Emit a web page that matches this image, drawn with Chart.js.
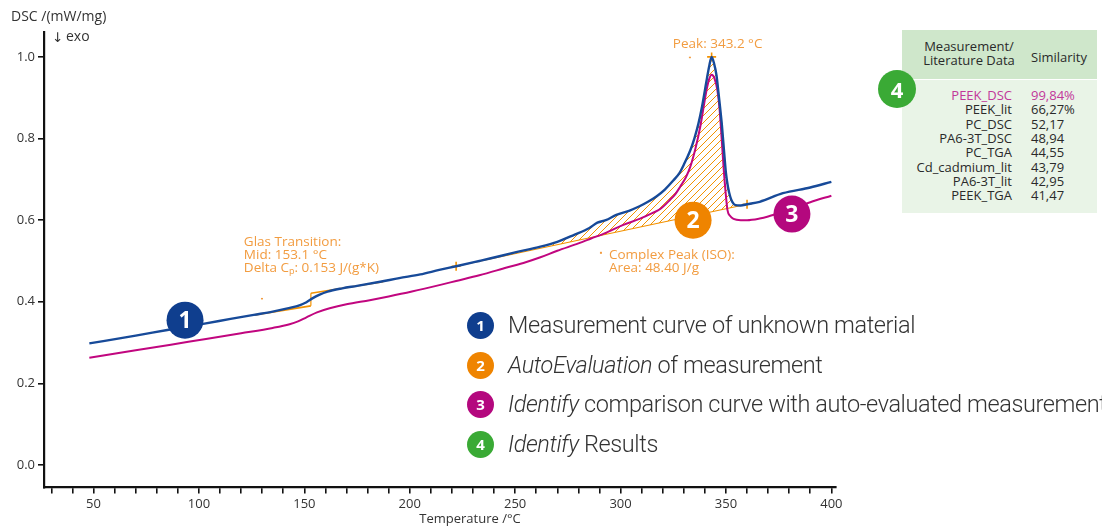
<!DOCTYPE html>
<html>
<head>
<meta charset="utf-8">
<title>DSC – PEEK identification</title>
<script src="https://cdn.jsdelivr.net/npm/chart.js@4.4.1/dist/chart.umd.min.js"></script>
<style>
  html, body { margin: 0; padding: 0; background: #fff; }
  #wrap { position: relative; width: 1102px; height: 527px; overflow: hidden; font-family: "Open Sans", "Noto Sans", sans-serif; }
  #chart { position: absolute; left: 0; top: 0; }
  .lrow { position: absolute; left: 467px; height: 30px; display: flex; align-items: center; white-space: nowrap; }
  .dot { width: 27px; height: 27px; border-radius: 50%; color: #fff; font: bold 15px "Open Sans", sans-serif; display: flex; align-items: center; justify-content: center; flex: none; }
  .ltxt { margin-left: 14px; font-family: Roboto, sans-serif; font-weight: 300; font-size: 23.5px; color: #333; letter-spacing: -0.4px; }
  #tbl { position: absolute; left: 902px; top: 30px; width: 195px; font-size: 13px; color: #2a2a2a; }
  #thead { position: relative; height: 49px; background: #cfe7cb; }
  #tbody { position: relative; margin-top: 1px; height: 133px; background: #e9f4e7; }
  .trow { position: absolute; left: 0; width: 195px; height: 14px; line-height: 14px; }
  .tname { position: absolute; right: 85px; text-align: right; }
  .tval { position: absolute; left: 129px; }
  #badge4 { position: absolute; left: 878px; top: 70px; width: 38px; height: 38px; border-radius: 50%; background: #3aaa35; color: #fff; font: bold 22px "Open Sans", sans-serif; display: flex; align-items: center; justify-content: center; }
</style>
</head>
<body>
<div id="wrap">
  <canvas id="chart" width="1102" height="527"></canvas>
  <div id="legend"></div>
  <div id="tbl">
    <div id="thead">
      <div style="position:absolute;left:0;width:134px;top:9px;text-align:center;line-height:14px;">Measurement/<br>Literature Data</div>
      <div style="position:absolute;left:129px;top:18px;">Similarity</div>
    </div>
    <div id="tbody"></div>
  </div>
  <div id="badge4">4</div>
</div>
<script>
// Measured DSC curve (blue): temperature in °C, DSC in mW/mg
const measT = [48, 70, 85, 102, 115, 126, 135, 142, 148, 151, 154, 157, 161, 168, 175, 186, 195, 205, 214, 222,
  233, 238, 250, 262, 270, 278, 285, 289, 293, 298, 304, 309, 313, 317, 321, 325, 328, 330, 333, 335,
  337, 338.5, 340, 341, 342, 343.2, 344.3, 345.5, 346.5, 348, 349, 350, 351, 352, 353, 354.5, 357, 360, 366, 377, 390, 400];
const measV = [0.298, 0.317, 0.331, 0.346, 0.358, 0.368, 0.376, 0.384, 0.392, 0.399, 0.409, 0.417, 0.425, 0.433, 0.439, 0.449, 0.458, 0.467, 0.478, 0.487,
  0.500, 0.506, 0.521, 0.535, 0.547, 0.564, 0.580, 0.594, 0.600, 0.613, 0.623, 0.634, 0.645, 0.658, 0.675, 0.697, 0.716, 0.736, 0.770, 0.800,
  0.838, 0.874, 0.918, 0.948, 0.976, 1.000, 0.985, 0.955, 0.910, 0.837, 0.775, 0.715, 0.680, 0.658, 0.645, 0.637, 0.636, 0.639, 0.645, 0.666, 0.680, 0.694];

// Comparison curve from the library (magenta)
const refT = [48, 70, 95, 120, 135, 143, 147, 151, 156, 162, 170, 181, 190, 201, 215, 222, 233, 246, 255, 262,
  270, 280, 286, 293, 301, 309, 315, 319, 323.5, 326, 328.3, 331, 333.1, 335.5, 337.8, 339.5, 340.8, 342, 343.2, 344.5,
  345.9, 347, 348, 349, 349.8, 350.7, 352, 353.6, 357, 360, 366, 370, 380, 390, 400];
const refV = [0.263, 0.281, 0.302, 0.323, 0.336, 0.345, 0.352, 0.362, 0.374, 0.384, 0.394, 0.404, 0.413, 0.425, 0.442, 0.451, 0.465, 0.484, 0.497, 0.509,
  0.525, 0.543, 0.555, 0.569, 0.588, 0.603, 0.617, 0.628, 0.650, 0.664, 0.682, 0.705, 0.731, 0.775, 0.829, 0.880, 0.919, 0.945, 0.956, 0.948,
  0.919, 0.870, 0.797, 0.720, 0.670, 0.625, 0.610, 0.603, 0.600, 0.600, 0.604, 0.609, 0.626, 0.644, 0.660];

// Complex peak evaluation: baseline limits and peak
const peakBaseT = [222, 360];
const peakBaseV = [0.487, 0.639];
const peakTopT = 343.2;
const peakTopV = 1.000;

// Glass transition construction lines
const gtLowT = [126.6, 153.1], gtLowV = [0.368, 0.390];
const gtHighT = [153.1, 187.4], gtHighV = [0.421, 0.449];

// Axis ticks
const xTicks = [30, 40, 50, 60, 70, 80, 90, 100, 110, 120, 130, 140, 150, 160, 170, 180, 190, 200, 210, 220,
  230, 240, 250, 260, 270, 280, 290, 300, 310, 320, 330, 340, 350, 360, 370, 380, 390, 400];
const yTicks = [0.0, 0.2, 0.4, 0.6, 0.8, 1.0];

// Numbered badges placed on the curves
const badgeNum = ['1', '2', '3'];
const badgeT = [93.4, 334.4, 381.3];
const badgeV = [0.355, 0.600, 0.615];
const badgeCol = ['#0f3e8e', '#ef8400', '#b4087e'];

// Identify result list
const hitNames = ['PEEK_DSC', 'PEEK_lit', 'PC_DSC', 'PA6-3T_DSC', 'PC_TGA', 'Cd_cadmium_lit', 'PA6-3T_lit', 'PEEK_TGA'];
const hitScores = ['99,84%', '66,27%', '52,17', '48,94', '44,55', '43,79', '42,95', '41,47'];

// Legend entries
const legendNum = ['1', '2', '3', '4'];
const legendCol = ['#0f3e8e', '#ef8400', '#b4087e', '#3aaa35'];
const legendHtml = [
  'Measurement curve of unknown material',
  '<i>AutoEvaluation</i> of measurement',
  '<i>Identify</i> comparison curve with auto-evaluated measurement',
  '<i>Identify</i> Results'
];
const legendY = [325, 365, 404, 444];

const BLUE = '#174a99';
const MAGENTA = '#c1067f';
const ORANGE = '#f39200';
const NOTE = '#f29c40';

const pts = (xs, ys) => xs.map((x, i) => ({ x: x, y: ys[i] }));

// Build legend
const legend = document.getElementById('legend');
legendNum.forEach((n, i) => {
  const row = document.createElement('div');
  row.className = 'lrow';
  row.style.top = (legendY[i] - 15) + 'px';
  row.innerHTML = '<div class="dot" style="background:' + legendCol[i] + '">' + n + '</div><div class="ltxt">' + legendHtml[i] + '</div>';
  legend.appendChild(row);
});

// Build result table
const tbody = document.getElementById('tbody');
hitNames.forEach((name, i) => {
  const r = document.createElement('div');
  r.className = 'trow';
  r.style.top = (8 + i * 14.3) + 'px';
  if (i === 0) r.style.color = '#c2379a';
  r.innerHTML = '<span class="tname">' + name + '</span><span class="tval">' + hitScores[i] + '</span>';
  tbody.appendChild(r);
});

// Diagonal hatch used for the integrated peak area
function makeHatch(ctx) {
  const c = document.createElement('canvas');
  c.width = 7; c.height = 7;
  const g = c.getContext('2d');
  g.strokeStyle = ORANGE;
  g.lineWidth = 1;
  g.beginPath();
  g.moveTo(-1, 8); g.lineTo(8, -1);
  g.moveTo(-1, 1); g.lineTo(1, -1);
  g.moveTo(6, 8); g.lineTo(8, 6);
  g.stroke();
  return ctx.createPattern(c, 'repeat');
}

const canvas = document.getElementById('chart');
const ctx = canvas.getContext('2d');

const peakSegment = pts(measT, measV).filter(p => p.x >= peakBaseT[0] && p.x <= peakBaseT[1]);

// Text and badges drawn on top of the plot
const notes = {
  id: 'notes',
  afterDraw(chart) {
    const c = chart.ctx;
    const xs = chart.scales.x, ys = chart.scales.y;
    const px = v => xs.getPixelForValue(v), py = v => ys.getPixelForValue(v);
    c.save();
    c.textBaseline = 'middle';

    // axis titles
    c.fillStyle = '#333';
    c.font = '14px "Open Sans"';
    c.textAlign = 'left';
    c.fillText('DSC /(mW/mg)', 11, 17);
    c.font = '13.5px "DejaVu Sans"';
    c.fillText('\u2193', 52, 38);
    c.font = '14px "Open Sans"';
    c.fillText('exo', 66, 37);
    c.font = '13px "Open Sans"';
    c.textAlign = 'center';
    c.fillText('Temperature /\u00B0C', (chart.chartArea.left + chart.chartArea.right) / 2 + 30, 519);

    // evaluation notes
    c.fillStyle = NOTE;
    c.font = '13.5px "Open Sans"';
    c.textAlign = 'center';
    c.fillText('Peak: 343.2 \u00B0C', px(peakTopT) + 6, py(peakTopV) - 13);

    c.textAlign = 'left';
    const gx = px(121.3), gy = py(0.547);
    c.fillText('Glas Transition:', gx, gy);
    c.fillText('Mid: 153.1 \u00B0C', gx, gy + 13);
    const w = c.measureText('Delta C').width;
    c.fillText('Delta C', gx, gy + 26);
    c.font = '9px "Open Sans"';
    c.fillText('p', gx + w, gy + 30);
    const wp = c.measureText('p').width;
    c.font = '13.5px "Open Sans"';
    c.fillText(': 0.153 J/(g*K)', gx + w + wp, gy + 26);

    const cx = px(294.5), cy = py(0.515);
    c.fillText('Complex Peak (ISO):', cx, cy);
    c.fillText('Area: 48.40 J/g', cx, cy + 13);

    // small reference marks next to the notes
    c.fillRect(px(129.9) - 1, py(0.407) - 1, 2, 1.5);
    c.fillRect(px(332.9) - 1, py(0.998) - 1, 2, 1.5);
    c.fillRect(px(290.7) - 1, py(0.52) - 1, 2, 2);

    // numbered badges
    badgeNum.forEach((n, i) => {
      const bx = px(badgeT[i]), by = py(badgeV[i]);
      c.beginPath();
      c.arc(bx, by, 18.5, 0, Math.PI * 2);
      c.fillStyle = badgeCol[i];
      c.fill();
      c.fillStyle = '#fff';
      c.font = 'bold 23px "Open Sans"';
      c.textAlign = 'center';
      c.fillText(n, bx, by + 1);
    });
    c.restore();
  }
};

new Chart(ctx, {
  type: 'line',
  data: {
    datasets: [
      { label: 'Measurement', data: pts(measT, measV), borderColor: BLUE, borderWidth: 2.4,
        pointRadius: 0, cubicInterpolationMode: 'monotone', fill: false },
      { label: 'Comparison', data: pts(refT, refV), borderColor: MAGENTA, borderWidth: 2,
        pointRadius: 0, cubicInterpolationMode: 'monotone', fill: false },
      { label: 'Peak area', data: peakSegment, borderWidth: 0, borderColor: 'rgba(0,0,0,0)',
        pointRadius: 0, cubicInterpolationMode: 'monotone', fill: { target: 3 }, backgroundColor: makeHatch(ctx) },
      { label: 'Peak baseline', data: pts(peakBaseT, peakBaseV), borderColor: ORANGE, borderWidth: 1.2,
        pointRadius: 0, tension: 0, fill: false },
      { label: 'Tg lower tangent', data: pts(gtLowT, gtLowV), borderColor: ORANGE, borderWidth: 1.6,
        pointRadius: 0, tension: 0, fill: false },
      { label: 'Tg upper tangent', data: pts(gtHighT, gtHighV), borderColor: ORANGE, borderWidth: 1.6,
        pointRadius: 0, tension: 0, fill: false },
      { label: 'Tg step', data: pts([gtLowT[1], gtHighT[0]], [gtLowV[1], gtHighV[0]]), borderColor: ORANGE, borderWidth: 1.2,
        pointRadius: 0, tension: 0, fill: false },
      { type: 'scatter', label: 'Limits', data: pts([peakBaseT[0], peakTopT, peakBaseT[1]], [peakBaseV[0], peakTopV, peakBaseV[1]]),
        pointStyle: 'cross', pointRadius: 4.5, borderColor: ORANGE, borderWidth: 1.6, showLine: false }
    ]
  },
  options: {
    responsive: false,
    animation: false,
    events: [],
    layout: { padding: { left: 0, top: 32, right: 266, bottom: 0 } },
    plugins: { legend: { display: false }, tooltip: { enabled: false }, title: { display: false } },
    scales: {
      x: {
        type: 'linear', position: 'bottom', min: 26.5, max: 402.2,
        afterBuildTicks: s => { s.ticks = xTicks.map(v => ({ value: v })); },
        afterFit: s => { s.height = 39.5; },
        border: { display: true, color: '#111', width: 2.2 },
        grid: { drawOnChartArea: false, drawTicks: true, tickLength: 6, color: '#111', lineWidth: 1.6 },
        ticks: { autoSkip: false, maxRotation: 0, padding: 3, color: '#333', font: { family: 'Open Sans', size: 13 },
          callback: v => (v % 50 === 0 ? String(v) : '') }
      },
      y: {
        type: 'linear', min: -0.055, max: 1.061,
        afterBuildTicks: s => { s.ticks = yTicks.map(v => ({ value: v })); },
        afterFit: s => { s.width = 44; },
        border: { display: true, color: '#111', width: 2.2 },
        grid: { drawOnChartArea: false, drawTicks: true, tickLength: 6, color: '#111', lineWidth: 1.6 },
        ticks: { padding: 3, color: '#333', font: { family: 'Open Sans', size: 13 },
          callback: v => Number(v).toFixed(1) }
      }
    }
  },
  plugins: [notes]
});
</script>
</body>
</html>
